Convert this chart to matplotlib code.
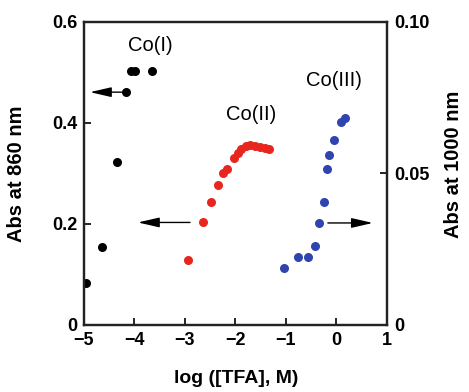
import matplotlib
matplotlib.use("Agg")
import matplotlib.pyplot as plt

plt.rcParams['font.family'] = ['Liberation Sans', 'DejaVu Sans']

# Co(I): Abs at 860 nm (left axis)
co1_x = [-4.95, -4.64, -4.34, -4.17, -4.07, -3.98, -3.65]
co1_y = [0.084, 0.154, 0.322, 0.461, 0.503, 0.503, 0.503]

# Co(II): Abs at 860 nm (left axis)
co2_x = [-2.93, -2.64, -2.49, -2.34, -2.24, -2.16, -2.02, -1.94, -1.88,
         -1.79, -1.71, -1.61, -1.51, -1.42, -1.33]
co2_y = [0.129, 0.203, 0.243, 0.277, 0.300, 0.309, 0.330, 0.341, 0.348,
         0.354, 0.356, 0.355, 0.353, 0.350, 0.348]

# Co(III): Abs at 1000 nm (right axis)
co3_x = [-1.04, -0.76, -0.56, -0.43, -0.35, -0.25, -0.19, -0.14, -0.04, 0.10, 0.16]
co3_y = [0.0187, 0.0225, 0.0225, 0.0259, 0.0338, 0.0407, 0.0514, 0.0561,
         0.0611, 0.0671, 0.0682]

x_ticks = [-5, -4, -3, -2, -1, 0, 1]
x_labels = ['\u22125', '\u22124', '\u22123', '\u22122', '\u22121', '0', '1']
yl_ticks = [0, 0.2, 0.4, 0.6]
yl_labels = ['0', '0.2', '0.4', '0.6']
yr_ticks = [0, 0.05, 0.10]
yr_labels = ['0', '0.05', '0.10']

fig = plt.figure(figsize=(4.69, 3.92), dpi=100)
ax = fig.add_axes([0.179, 0.171, 0.646, 0.773])
ax2 = ax.twinx()

ms = 6.5
ax.plot(co1_x, co1_y, 'o', color='black', ms=ms, mec='none')
ax.plot(co2_x, co2_y, 'o', color='#e8261e', ms=ms, mec='none')
ax2.plot(co3_x, co3_y, 'o', color='#2f44ae', ms=ms, mec='none')

ax.set_xlim(-5, 1)
ax.set_ylim(0, 0.6)
ax2.set_ylim(0, 0.10)

ax.set_xticks(x_ticks)
ax.set_xticklabels(x_labels)
ax.set_yticks(yl_ticks)
ax.set_yticklabels(yl_labels)
ax2.set_yticks(yr_ticks)
ax2.set_yticklabels(yr_labels)

for a in (ax, ax2):
    for s in a.spines.values():
        s.set_linewidth(1.6)
        s.set_color('#222222')
    a.tick_params(direction='in', length=5, width=1.2, labelsize=13, pad=5)
    for lab in a.get_xticklabels() + a.get_yticklabels():
        lab.set_fontweight('bold')

ax.set_xlabel('log ([TFA], M)', fontsize=14, fontweight='bold')
ax.set_ylabel('Abs at 860 nm', fontsize=14.5, fontweight='bold')
ax2.set_ylabel('Abs at 1000 nm', fontsize=14.5, fontweight='bold')
ax.xaxis.set_label_coords(0.503, -0.15)
ax.yaxis.set_label_coords(-0.19, 0.5)
ax2.yaxis.set_label_coords(1.19, 0.53)

arrow_kw = dict(arrowstyle='-|>,head_length=1.3,head_width=0.3', color='black', lw=1.0,
                shrinkA=0, shrinkB=0)
ax.annotate('', xy=(-4.88, 0.461), xytext=(-4.25, 0.461), arrowprops=arrow_kw)
ax.annotate('', xy=(-3.93, 0.203), xytext=(-2.90, 0.203), arrowprops=arrow_kw)
ax.annotate('', xy=(0.72, 0.202), xytext=(-0.17, 0.202), arrowprops=arrow_kw)

ax.text(-3.68, 0.554, 'Co(I)', fontsize=14.5, ha='center', va='center')
ax.text(-1.69, 0.416, 'Co(II)', fontsize=14.5, ha='center', va='center')
ax.text(-0.04, 0.485, 'Co(III)', fontsize=14.5, ha='center', va='center')

fig.savefig('out.png', dpi=100)
